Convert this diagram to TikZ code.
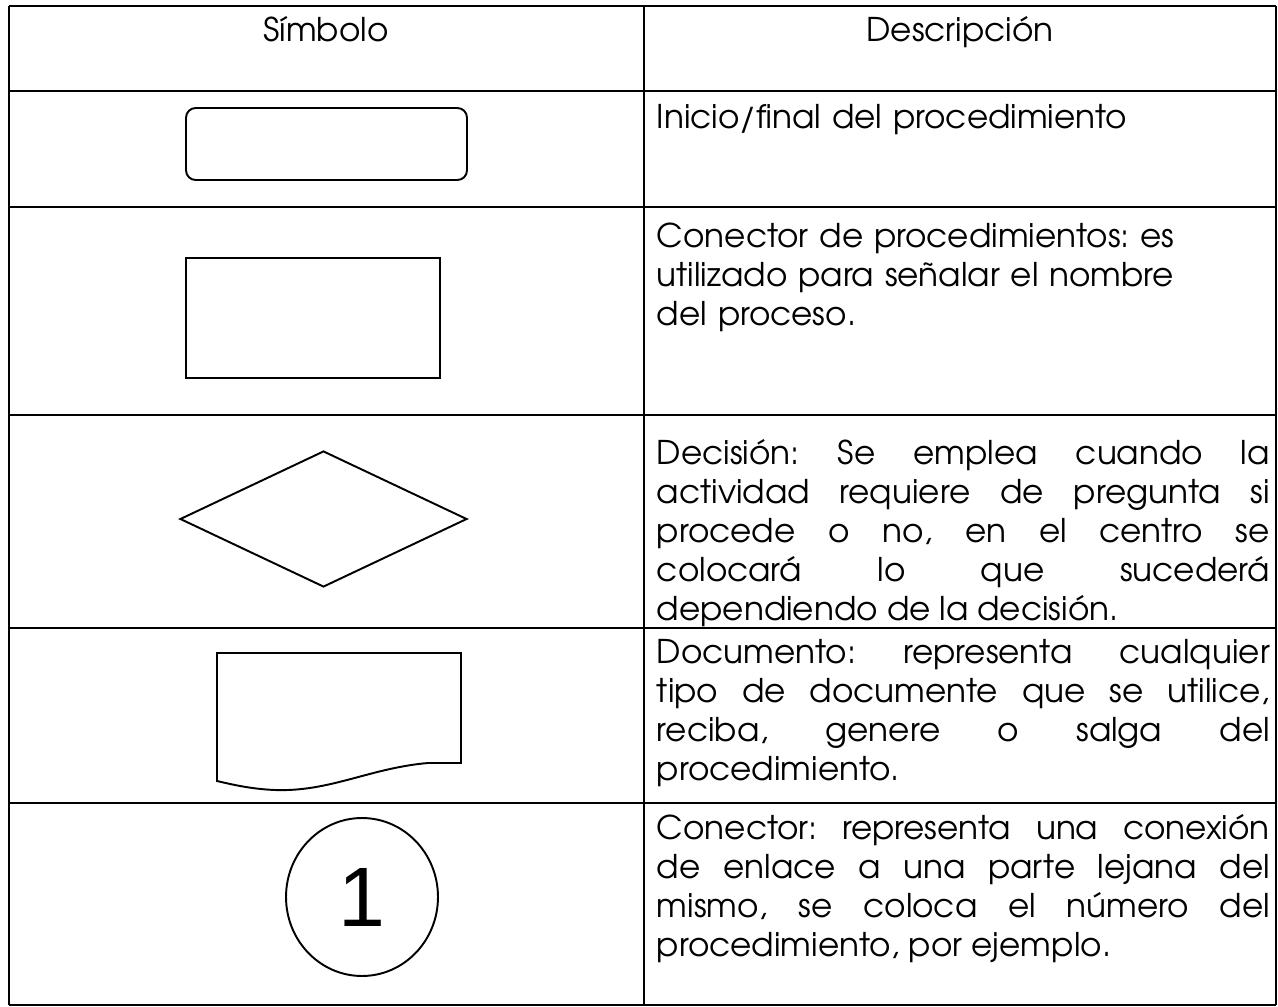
\documentclass[tikz,border=0pt]{standalone}
\usepackage{fontspec}
\setmainfont{TeX Gyre Adventor}
\newfontfamily\arialfont{Liberation Sans}
\usetikzlibrary{shapes,arrows,positioning}
\frenchspacing

\begin{document}
\begin{tikzpicture}[x=0.02cm, y=-0.02cm, line width=1.1pt,
    rowline/.style={line width=1.6pt},
    colline/.style={line width=1.2pt},
    head/.style={anchor=base, inner sep=0pt, font=\fontsize{18.6}{22}\selectfont},
    desc/.style={anchor=north west, inner sep=0pt, text width=12.26cm,
        align=justify, font=\fontsize{18.6}{22.2}\selectfont}]
    \useasboundingbox (0,0) rectangle (1278,1007);

    % table
    \draw[colline] (9,6) -- (9,1005);
    \draw[colline] (644,6) -- (644,1005);
    \draw[colline] (1276,6) -- (1276,1005);
    \foreach \y in {6,91,207,415,628,803,1005}
        \draw[rowline] (9,\y) -- (1276,\y);

    \node[head] (hsym) at (326,42) {Símbolo};
    \node[head] (hdesc) at (960,42) {Descripción};

    % symbols
    \node[draw, rectangle, rounded corners=5.5pt, minimum width=5.62cm, minimum height=1.44cm] (inicio) at (326.5,144) {};
    \node[draw, rectangle, minimum width=5.08cm, minimum height=2.4cm] (proc) at (313,318) {};
    \node[draw, diamond, inner sep=0pt, minimum width=5.74cm, minimum height=2.72cm] (decision) at (323.5,519) {};
    \draw (217,653) -- (461,653) -- (461,763) -- (428,763)
        .. controls (370,768) and (330,792) .. (275,790)
        .. controls (250,789) and (230,784) .. (217,781) -- cycle;
    \node[draw, ellipse, inner sep=0pt, minimum width=3.04cm, minimum height=3.16cm,
        font=\arialfont\fontsize{48}{52}\selectfont] (conector) at (362,897) {1};

    % descriptions
    \node[desc, align=left] (dinicio) at (656,103) {Inicio/final del procedimiento};
    \node[desc, align=left] (dproc) at (656,222) {Conector de procedimientos: es\\
        utilizado para señalar el nombre\\ del proceso.};
    \node[desc] (ddecision) at (656,438) {Decisión: Se emplea cuando la\linebreak
        actividad requiere de pregunta si\linebreak procede o no, en el centro se\linebreak
        colocará lo que sucederá\linebreak dependiendo de la decisión.};
    \node[desc] (ddoc) at (656,638) {Documento: representa cualquier\linebreak
        tipo de documente que se utilice,\linebreak reciba, genere o salga del\linebreak
        procedimiento.};
    \node[desc] (dconector) at (656,813) {Conector: representa una conexión\linebreak
        de enlace a una parte lejana del\linebreak mismo, se coloca el número del\linebreak
        procedimiento, por ejemplo.};
\end{tikzpicture}
\end{document}
